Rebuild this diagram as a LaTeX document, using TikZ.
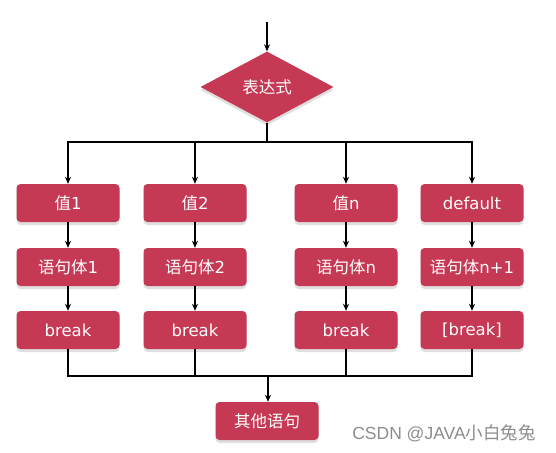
\documentclass[tikz,border=0pt]{standalone}
\usepackage{fontspec}
\setmainfont{DejaVu Sans}
\newfontfamily\cjk{Noto Sans CJK SC}
\newfontfamily\wm{Liberation Sans}
\usetikzlibrary{shapes.geometric,shadows,arrows.meta}
\definecolor{boxred}{RGB}{197,57,84}
\definecolor{markgray}{RGB}{140,140,140}
\begin{document}
\begin{tikzpicture}[x=1pt,y=-1pt,every node/.style={font=\fontsize{16.5}{18}\selectfont}]
  \tikzset{
    blk/.style={rectangle, rounded corners=4pt, fill=boxred, text=white,
      minimum width=103pt, minimum height=38pt, inner sep=0pt,
      drop shadow={shadow xshift=0pt, shadow yshift=-3pt, opacity=0.25}},
    cond/.style={diamond, fill=boxred, text=white, inner sep=0pt,
      minimum width=133pt, minimum height=71pt,
      drop shadow={shadow xshift=0pt, shadow yshift=-3pt, opacity=0.25}},
    line/.style={line width=1.6pt},
    arr/.style={line width=1.6pt, -{Stealth[length=7pt,width=6pt]}}
  }
  \useasboundingbox (0,0) rectangle (556,452);
  % switch
  \coordinate (top) at (267,22);
  \node[cond] (expr) at (267,87) {\cjk 表达式};
  \coordinate (split) at (267,142);
  % columns
  \node[blk] (v1) at ( 68,203) {{\cjk 值}1};
  \node[blk] (v2) at (195,203) {{\cjk 值}2};
  \node[blk] (vn) at (346,203) {{\cjk 值}n};
  \node[blk] (vd) at (472,203) {default};
  \node[blk] (s1) at ( 68,267) {{\cjk 语句体}1};
  \node[blk] (s2) at (195,267) {{\cjk 语句体}2};
  \node[blk] (sn) at (346,267) {{\cjk 语句体}n};
  \node[blk] (sd) at (472,267) {{\cjk 语句体}n+1};
  \node[blk] (b1) at ( 68,330) {break};
  \node[blk] (b2) at (195,330) {break};
  \node[blk] (bn) at (346,330) {break};
  \node[blk] (bd) at (472,330) {[break]};
  \coordinate (merge) at (268,376);
  \node[blk] (rest) at (267,421) {\cjk 其他语句};
  \node[text=markgray, font=\wm\fontsize{17.5}{19}\selectfont] (mark) at (444,433) {CSDN @JAVA{\cjk 小白兔兔}};
  % arrows
  \draw[arr] (top) -- (expr.north);
  \draw[line] (expr.south) -- (split);
  \draw[arr] (split) -| (v1.north);
  \draw[arr] (split) -| (v2.north);
  \draw[arr] (split) -| (vn.north);
  \draw[arr] (split) -| (vd.north);
  \draw[arr] (v1) -- (s1);
  \draw[arr] (v2) -- (s2);
  \draw[arr] (vn) -- (sn);
  \draw[arr] (vd) -- (sd);
  \draw[arr] (s1) -- (b1);
  \draw[arr] (s2) -- (b2);
  \draw[arr] (sn) -- (bn);
  \draw[arr] (sd) -- (bd);
  \draw[line] (b1.south) |- (merge);
  \draw[line] (b2.south) |- (merge);
  \draw[line] (bn.south) |- (merge);
  \draw[line] (bd.south) |- (merge);
  \draw[arr] (merge) -- (merge |- rest.north);
\end{tikzpicture}
\end{document}
